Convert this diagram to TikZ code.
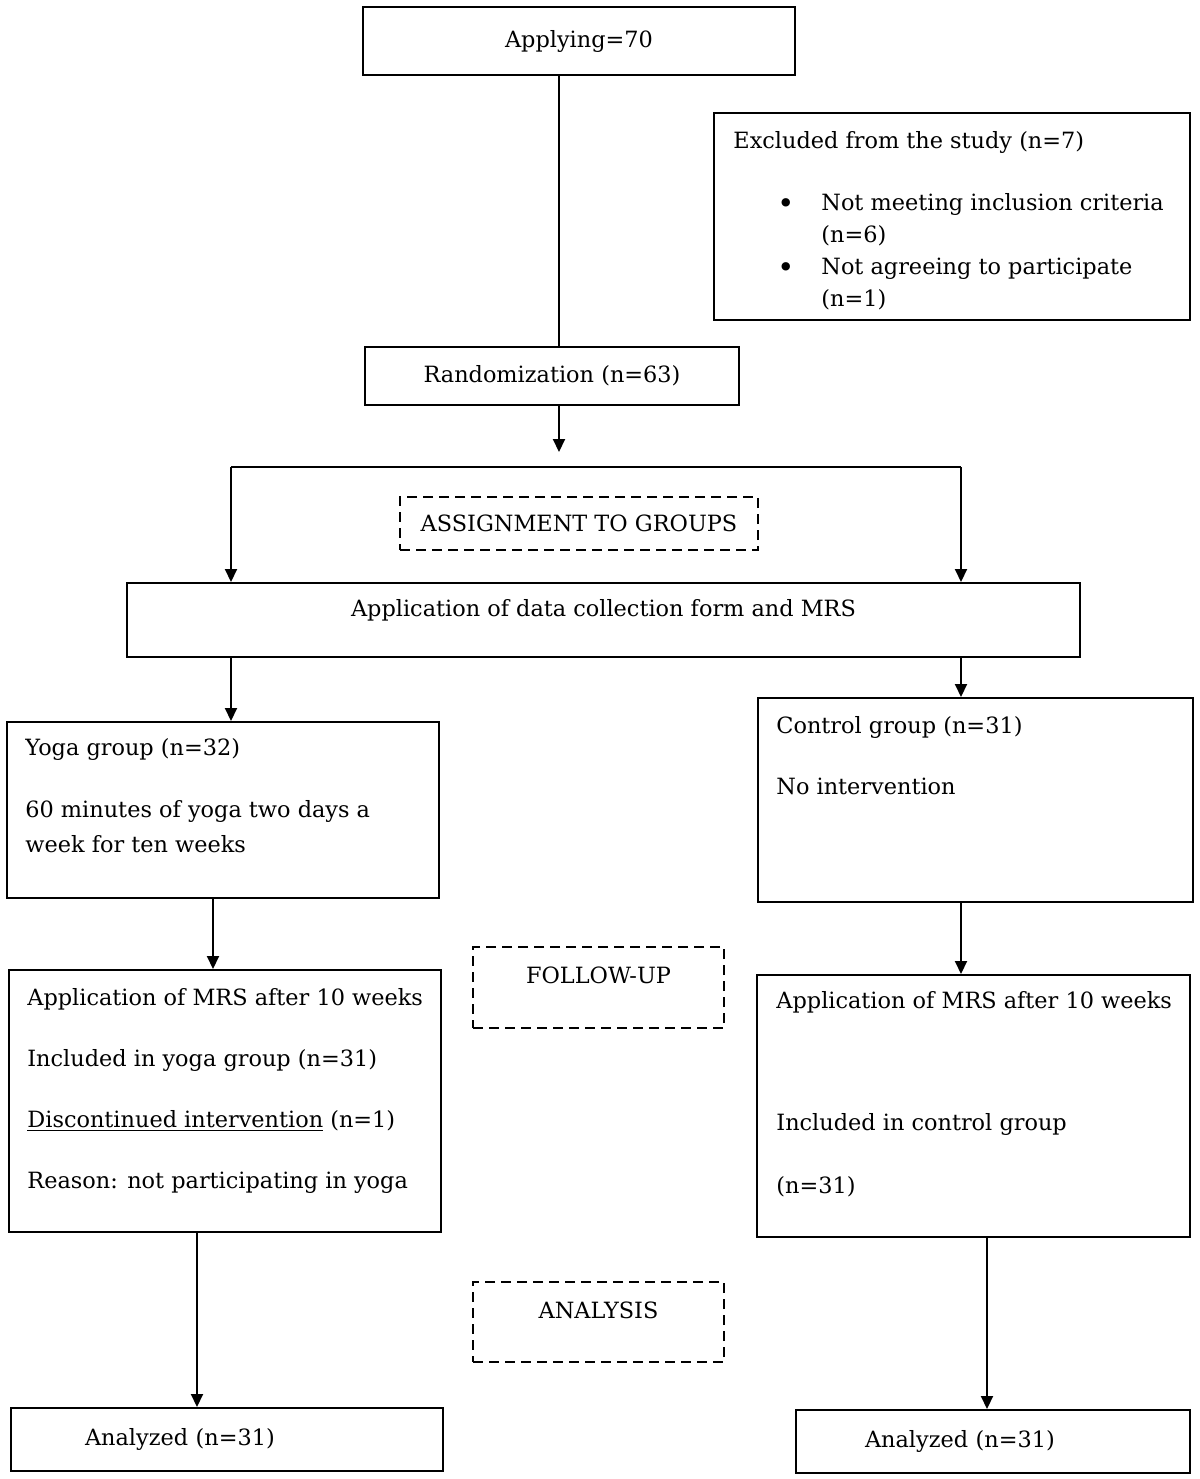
\documentclass[tikz,border=0pt]{standalone}
\usepackage{fontspec}
\setmainfont{DejaVu Serif}
\usepackage{tikz}
\usetikzlibrary{arrows.meta,positioning,calc}

\begin{document}
\begin{tikzpicture}[
  x=0.5pt,y=-0.5pt,
  every node/.style={font=\fontsize{11.2}{17.5}\selectfont},
  box/.style={draw,line width=1pt,inner sep=0pt},
  phase/.style={draw,line width=1pt,dash pattern=on 5pt off 3pt,inner sep=0pt},
  raised/.style={text height=8pt,text depth=12pt},
  txt/.style={inner sep=0pt,anchor=north west,align=left},
  line/.style={line width=1pt},
  arr/.style={-{Triangle[length=6.5pt,width=6pt]},line width=1pt}
]
\useasboundingbox (0,0) rectangle (1200,1479);

% enrolment
\node[box,minimum width=216pt,minimum height=34pt] (apply) at (579,41) {Applying=70};
\node[box,minimum width=238pt,minimum height=103.5pt] (excl) at (952,216.5) {};
\node[txt,font=\fontsize{11.2}{16}\selectfont] (exclTxt) at ([shift={(20,19)}]excl.north west)
  {Excluded from the study (n=7)\\[15pt]
   \makebox[44pt][l]{\hspace{22pt}\raisebox{-1.5pt}{\Large\textbullet}}Not meeting inclusion criteria\\
   \hspace*{44pt}(n=6)\\
   \makebox[44pt][l]{\hspace{22pt}\raisebox{-1.5pt}{\Large\textbullet}}Not agreeing to participate\\
   \hspace*{44pt}(n=1)};
\node[box,minimum width=187pt,minimum height=29pt] (rand) at (552,376) {Randomization (n=63)};
\coordinate (randEnd) at (559,452);
\coordinate (splitL) at (231,467);
\coordinate (splitR) at (961,467);
\node[phase,minimum width=179pt,minimum height=26.5pt] (assign) at (579,523.5) {ASSIGNMENT TO GROUPS};
\node[box,raised,minimum width=476.5pt,minimum height=37pt] (appl) at (603.5,620) {Application of data collection form and MRS};

% allocation
\node[box,minimum width=216pt,minimum height=88pt] (yoga) at (223,810) {};
\node[txt] (yogaTxt) at ([shift={(19,17)}]yoga.north west)
  {Yoga group (n=32)\\[13.5pt]
   60 minutes of yoga two days a\\
   week for ten weeks};
\node[box,minimum width=217.5pt,minimum height=102pt] (ctrl) at (975.5,800) {};
\node[txt] (ctrlTxt) at ([shift={(19,19)}]ctrl.north west)
  {Control group (n=31)\\[13pt]
   No intervention};

% follow-up
\node[phase,raised,minimum width=125.5pt,minimum height=40.5pt] (follow) at (598.5,987.5) {FOLLOW-UP};
\node[box,minimum width=216pt,minimum height=131pt] (yogaFU) at (225,1101) {};
\node[txt] (yogaFUTxt) at ([shift={(19,19)}]yogaFU.north west)
  {Application of MRS after 10 weeks\\[13pt]
   Included in yoga group (n=31)\\[13pt]
   \underline{Discontinued intervention} (n=1)\\[13pt]
   Reason: not participating in yoga};
\node[box,minimum width=216.5pt,minimum height=131pt] (ctrlFU) at (973.5,1106) {};
\node[txt] (ctrlFUTxt) at ([shift={(20,17)}]ctrlFU.north west)
  {Application of MRS after 10 weeks\\[43.5pt]
   Included in control group\\[14pt]
   (n=31)};

% analysis
\node[phase,raised,minimum width=125.5pt,minimum height=40pt] (analysis) at (598.5,1322) {ANALYSIS};
\node[box,minimum width=216pt,minimum height=31.5pt,text width=142pt,align=left] (yogaA) at (227,1439.5) {Analyzed (n=31)};
\node[box,minimum width=197pt,minimum height=31.5pt,text width=128pt,align=left] (ctrlA) at (993,1441.5) {Analyzed (n=31)};

% connectors
\draw[line] ([xshift=-10pt]apply.south) -- ([xshift=-10pt]apply.south |- rand.north);
\draw[arr] (rand.south -| randEnd) -- (randEnd);
\draw[line] (splitL) -- (splitR);
\draw[arr] (splitL) -- (splitL |- appl.north);
\draw[arr] (splitR) -- (splitR |- appl.north);
\draw[arr] (appl.south -| splitL) -- (yoga.north -| splitL);
\draw[arr] (appl.south -| splitR) -- (ctrl.north -| splitR);
\draw[arr] ([xshift=-5pt]yoga.south) -- ([xshift=-5pt]yoga.south |- yogaFU.north);
\draw[arr] (ctrl.south -| splitR) -- (ctrlFU.north -| splitR);
\draw[arr] ([xshift=-14pt]yogaFU.south) -- ([xshift=-14pt]yogaFU.south |- yogaA.north);
\draw[arr] ([xshift=6.75pt]ctrlFU.south) -- ([xshift=6.75pt]ctrlFU.south |- ctrlA.north);
\end{tikzpicture}
\end{document}
